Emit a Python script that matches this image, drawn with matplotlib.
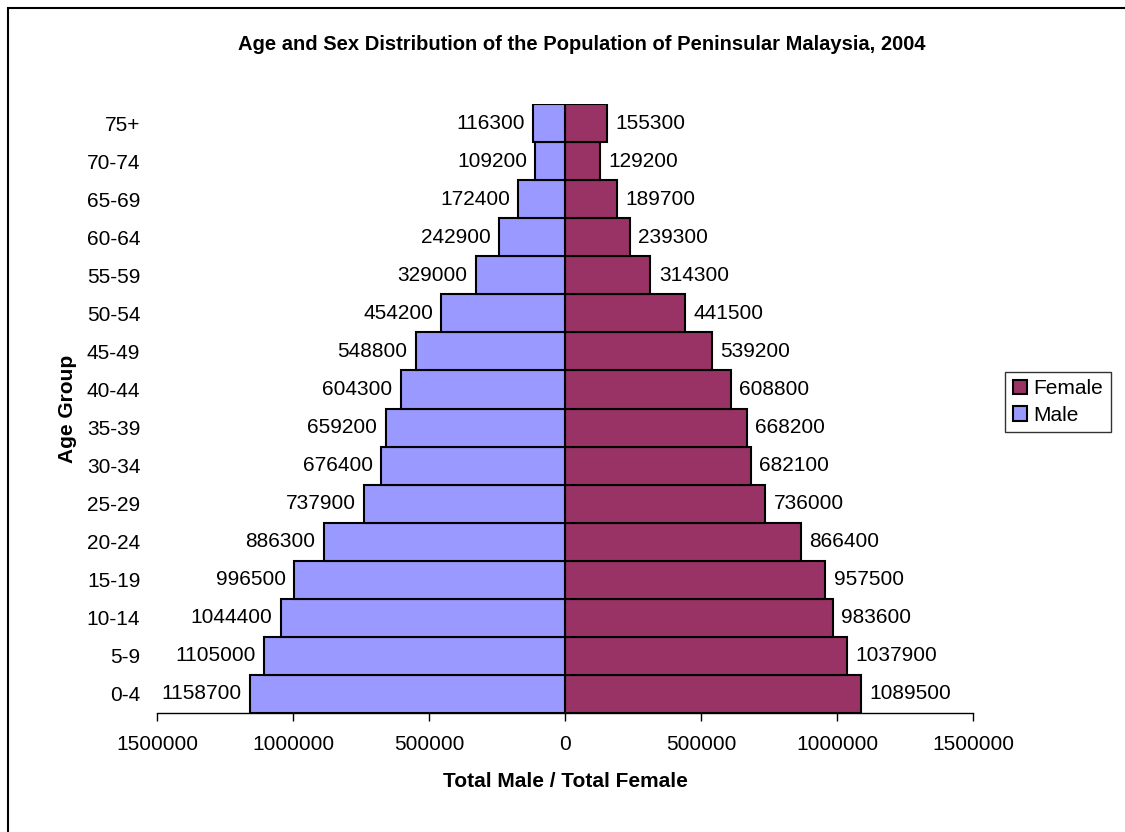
import matplotlib
matplotlib.use("Agg")
import matplotlib.pyplot as plt
from matplotlib.patches import Rectangle
from matplotlib.ticker import FuncFormatter

plt.rcParams['font.family'] = ['Liberation Sans', 'DejaVu Sans']

age_groups = ['0-4', '5-9', '10-14', '15-19', '20-24', '25-29', '30-34', '35-39',
              '40-44', '45-49', '50-54', '55-59', '60-64', '65-69', '70-74', '75+']
male = [1158700, 1105000, 1044400, 996500, 886300, 737900, 676400, 659200,
        604300, 548800, 454200, 329000, 242900, 172400, 109200, 116300]
female = [1089500, 1037900, 983600, 957500, 866400, 736000, 682100, 668200,
          608800, 539200, 441500, 314300, 239300, 189700, 129200, 155300]
x_ticks = [-1500000, -1000000, -500000, 0, 500000, 1000000, 1500000]

male_color = '#9999FF'
female_color = '#993366'

fig = plt.figure(figsize=(11.25, 8.32), dpi=100)
ax = fig.add_axes([157/1125, 1-713/832, (973-157)/1125, (713-104)/832])

y = list(range(len(age_groups)))
neg_male = [-v for v in male]
bf = ax.barh(y, female, height=1.0, color=female_color, edgecolor='black', linewidth=1.5, label='Female')
bm = ax.barh(y, neg_male, height=1.0, color=male_color, edgecolor='black', linewidth=1.5, label='Male')

ax.bar_label(bm, labels=[str(v) for v in male], padding=6, fontsize=15)
ax.bar_label(bf, labels=[str(v) for v in female], padding=6, fontsize=15)

ax.set_xlim(-1500000, 1500000)
ax.set_ylim(-0.5, len(age_groups) - 0.5)
ax.set_xticks(x_ticks)
ax.xaxis.set_major_formatter(FuncFormatter(lambda v, p: f"{abs(int(v))}"))
ax.set_yticks(y)
ax.set_yticklabels(age_groups)
ax.tick_params(axis='x', labelsize=15, direction='out', length=6, width=1, pad=10)
ax.tick_params(axis='y', labelsize=15, length=0, pad=12)
for s in ['top', 'right', 'left']:
    ax.spines[s].set_visible(False)
ax.spines['bottom'].set_linewidth(1)

ax.set_xlabel('Total Male / Total Female', fontsize=15, fontweight='bold', labelpad=13)
ax.set_ylabel('Age Group', fontsize=15, fontweight='bold', labelpad=7)

fig.text(582/1125, 1-45/832, 'Age and Sex Distribution of the Population of Peninsular Malaysia, 2004',
         ha='center', va='center', fontsize=14.5, fontweight='bold')

leg = fig.legend(handles=[bf, bm], labels=['Female', 'Male'], loc='center',
                 bbox_to_anchor=(1058/1125, 1-402/832), fontsize=15, frameon=True,
                 fancybox=False, edgecolor='black', handlelength=0.7, handleheight=0.7,
                 handletextpad=0.3, borderpad=0.35, labelspacing=0.35, borderaxespad=0)
leg.get_frame().set_linewidth(1)

fig.patches.append(Rectangle((8/1125, -0.05), 1.2, 1-8/832+0.05, transform=fig.transFigure,
                             fill=False, edgecolor='black', linewidth=1.5, clip_on=False))

fig.savefig('out.png', dpi=100)
